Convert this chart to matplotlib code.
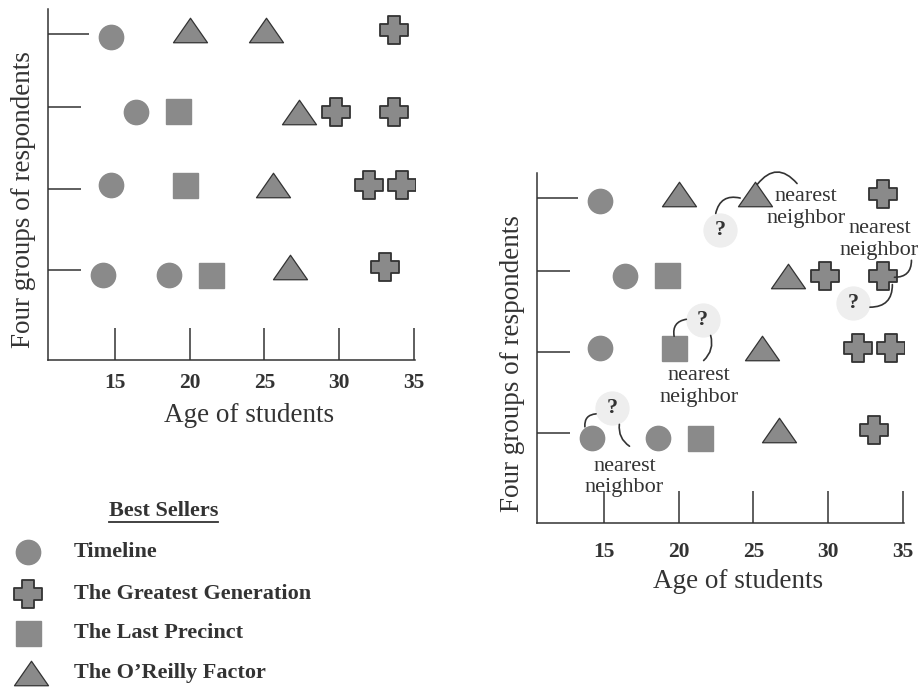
import matplotlib
matplotlib.use("Agg")
from matplotlib import pyplot as plt
from matplotlib.path import Path
import numpy as np

plt.rcParams['font.family'] = ['Liberation Serif', 'DejaVu Serif']

# ages (x) and group heights (y) of each best seller
timeline_x = [14.7, 16.4, 14.7, 14.2, 18.6]
timeline_y = [3.98, 3.06, 2.16, 1.05, 1.05]
greatest_x = [33.7, 29.8, 33.7, 32.0, 34.2, 33.1]
greatest_y = [4.07, 3.06, 3.06, 2.16, 2.16, 1.15]
precinct_x = [19.2, 19.7, 21.4]
precinct_y = [3.07, 2.16, 1.05]
oreilly_x = [20.0, 25.1, 27.3, 25.6, 26.7]
oreilly_y = [4.07, 4.07, 3.06, 2.16, 1.15]

group_ticks = [1.11, 2.11, 3.12]
top_group_tick = 4.02
age_ticks = [15, 20, 25, 30, 35]

books = ["Timeline", "The Greatest Generation", "The Last Precinct", "The O\u2019Reilly Factor"]

# "?" unknowns and the "nearest neighbor" notes (right chart only)
unknown_x = [22.76, 31.67, 21.6, 15.54]
unknown_y = [3.63, 2.72, 2.51, 1.42]
note_x = [28.54, 33.45, 21.33, 16.36]
note_y = [3.90, 3.51, 1.69, 0.57]
links = [((22.48, 3.83), (24.12, 4.02), -0.5),
         ((25.27, 4.19), (27.93, 4.20), -0.6),
         ((32.82, 2.67), (34.32, 2.95), 0.5),
         ((34.46, 3.04), (35.6, 3.25), 0.5),
         ((19.69, 2.31), (20.51, 2.52), -0.5),
         ((22.14, 2.32), (21.67, 2.01), -0.3),
         ((13.71, 1.19), (14.46, 1.35), -0.5),
         ((16.02, 1.22), (16.70, 0.95), 0.3)]

GRAY = "#8a8a8a"
DARK = "#333333"

w = 0.42
cross = Path([(-w, -1), (w, -1), (w, -w), (1, -w), (1, w), (w, w), (w, 1), (-w, 1),
              (-w, w), (-1, w), (-1, -w), (-w, -w), (-w, -1)], closed=True)
tri = Path([(-1, -0.72), (1, -0.72), (0, 0.72), (-1, -0.72)], closed=True)

styles = [dict(marker='o', markersize=17.5, markerfacecolor=GRAY, markeredgecolor=GRAY),
          dict(marker=cross, markersize=19.5, markerfacecolor=GRAY, markeredgecolor=DARK, markeredgewidth=1.3),
          dict(marker='s', markersize=18, markerfacecolor=GRAY, markeredgecolor=GRAY),
          dict(marker=tri, markersize=24.5, markerfacecolor=GRAY, markeredgecolor=DARK, markeredgewidth=0.9)]
series = [(timeline_x, timeline_y), (greatest_x, greatest_y),
          (precinct_x, precinct_y), (oreilly_x, oreilly_y)]


def draw_panel(ax, label_pad, xlabel_y):
    for (xs, ys), st in zip(series, styles):
        ax.plot(xs, ys, linestyle='none', **st)
    ax.set_xlim(10.5, 35.1)
    ax.set_ylim(0, 4.33)
    for s in ["top", "right"]:
        ax.spines[s].set_visible(False)
    for s in ["left", "bottom"]:
        ax.spines[s].set_color(DARK)
        ax.spines[s].set_linewidth(1.1)
    ax.set_xticks(age_ticks)
    ax.set_xticklabels([str(a) for a in age_ticks], fontweight='bold', fontsize=15.5, color=DARK)
    ax.tick_params(axis='x', direction='in', length=23, width=1.1, color=DARK, pad=label_pad)
    ax.set_yticks(group_ticks)
    ax.set_yticks([top_group_tick], minor=True)
    ax.set_yticklabels([])
    ax.tick_params(axis='y', which='major', direction='in', length=23.8, width=1.1, color=DARK)
    ax.tick_params(axis='y', which='minor', direction='in', length=29.5, width=1.1, color=DARK)
    ax.set_xlabel("Age of students", fontsize=19.5, color=DARK)
    ax.xaxis.set_label_coords(0.548, xlabel_y)
    ax.text(-0.068, 0.456, "Four groups of respondents", transform=ax.transAxes,
            rotation=90, ha='center', va='center', fontsize=19.5, color=DARK)


fig = plt.figure(figsize=(9.21, 6.87), dpi=100)
ax1 = fig.add_axes([48/921, 1-360/687, 367/921, 351/687])
ax2 = fig.add_axes([537/921, 1-523/687, 367/921, 350/687])
draw_panel(ax1, 9, -0.122)
draw_panel(ax2, 14, -0.13)

# nearest-neighbour notes
ax2.scatter(unknown_x, unknown_y, s=560, color="#eeeeee", zorder=1, clip_on=False)
for x, y in zip(unknown_x, unknown_y):
    ax2.text(x, y, "?", ha='center', va='center', fontsize=16, fontweight='bold', color=DARK, zorder=3)
for x, y in zip(note_x, note_y):
    ax2.text(x, y, "nearest\nneighbor", ha='center', va='center', fontsize=16,
             color=DARK, linespacing=1.2, clip_on=False)
for a, b, rad in links:
    ax2.annotate("", xy=b, xytext=a,
                 arrowprops=dict(arrowstyle='-', connectionstyle="arc3,rad=%s" % rad,
                                 color=DARK, lw=1.2, shrinkA=0, shrinkB=0),
                 annotation_clip=False)

# legend block
leg = fig.add_axes([0, 0, 1, 1], zorder=-1)
leg.set_xlim(0, 921)
leg.set_ylim(687, 0)
leg.axis('off')
row_y = [552, 594, 633, 673]
marker_x = [28, 28, 28, 31]
for i, (name, st) in enumerate(zip(books, styles)):
    leg.plot([marker_x[i]], [row_y[i]], linestyle='none', **st)
    leg.text(74, row_y[i], name, ha='left', va='center', fontsize=16, fontweight='bold', color=DARK)
title = leg.text(163.5, 511, "Best Sellers", ha='center', va='center', fontsize=16,
                 fontweight='bold', color=DARK)
fig.canvas.draw()
bb = title.get_window_extent().transformed(leg.transData.inverted())
leg.plot([bb.x0, bb.x1], [522, 522], color=DARK, lw=1.3)

fig.savefig("out.png", dpi=100)
